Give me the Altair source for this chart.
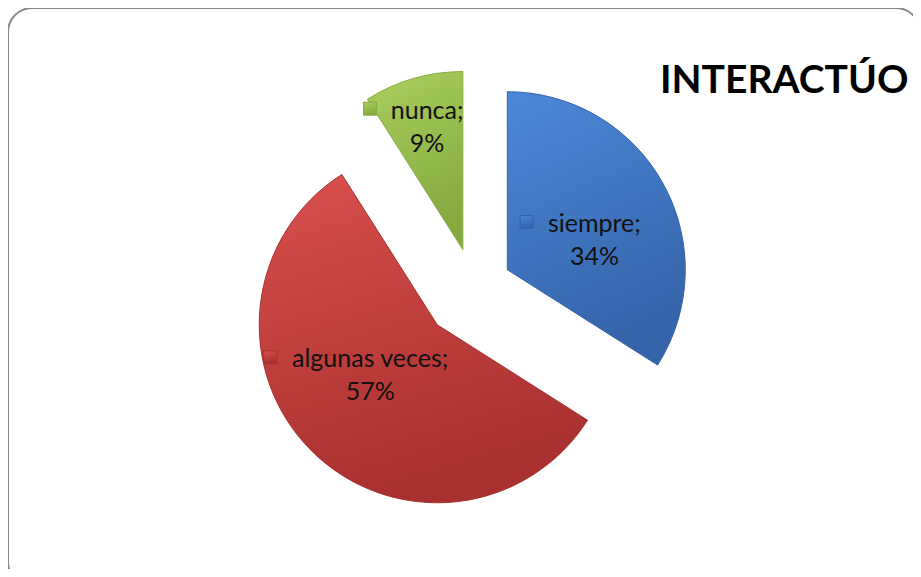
import altair as alt
import pandas as pd

# ---- data ----
categories = ["siempre", "algunas veces", "nunca"]
values = [34, 57, 9]
colors_light = ["#4c88d8", "#d9504d", "#a9cf5e"]
colors_dark = ["#3564aa", "#a8302e", "#86aa40"]
title_text = "INTERACTÚO"

df = pd.DataFrame({"cat": categories, "v": values, "idx": list(range(len(categories)))})

CX, CY, R = 466, 280, 178
explode_expr = "datum.cat == 'algunas veces' ? 52 : (datum.cat == 'nunca' ? 40 : 38)"
labelr_expr = "datum.cat == 'algunas veces' ? 84 : (datum.cat == 'nunca' ? 128 : 92)"
labeld_expr = "datum.cat == 'algunas veces' ? 8 : (datum.cat == 'nunca' ? 0 : 10)"

base = alt.Chart(df).transform_joinaggregate(
    total="sum(v)"
).transform_window(
    cum="sum(v)", sort=[alt.SortField("idx")], frame=[None, 0]
).transform_calculate(
    t0="2*PI*(datum.cum - datum.v)/datum.total",
    t1="2*PI*datum.cum/datum.total",
).transform_calculate(
    mid="(datum.t0 + datum.t1)/2",
    d=explode_expr,
    lr=labelr_expr,
    ld=labeld_expr,
).transform_calculate(
    cx=f"{CX} + datum.d*sin(datum.mid)",
    cy=f"{CY} - datum.d*cos(datum.mid)",
    la="datum.mid + datum.ld*PI/180",
).transform_calculate(
    lx="datum.cx + datum.lr*sin(datum.la)",
    ly="datum.cy - datum.lr*cos(datum.la) - 16",
    pct="format(datum.v/datum.total, '.0%')",
).transform_calculate(
    label="datum.cat + ';\\n' + datum.pct",
    mx="datum.lx - (length(datum.cat)+1)*5.35 - 25",
    my="datum.ly - 2",
)

layers = []
for i, c in enumerate(categories):
    grad = {
        "gradient": "linear", "x1": 0, "y1": 0, "x2": 0.3, "y2": 1,
        "stops": [{"offset": 0, "color": colors_light[i]},
                  {"offset": 1, "color": colors_dark[i]}],
    }
    arc = base.transform_filter(alt.datum.cat == c).mark_arc(
        outerRadius=R, fill=grad, stroke=colors_dark[i], strokeWidth=1
    ).encode(
        x=alt.X("cx:Q", scale=None, axis=None),
        y=alt.Y("cy:Q", scale=None, axis=None),
        theta=alt.Theta("t0:Q", scale=None, stack=None),
        theta2="t1:Q",
    )
    marker = base.transform_filter(alt.datum.cat == c).mark_square(
        size=170, fill=grad, stroke=colors_dark[i], strokeWidth=1, opacity=1
    ).encode(
        x=alt.X("mx:Q", scale=None, axis=None),
        y=alt.Y("my:Q", scale=None, axis=None),
    )
    layers += [arc, marker]

labels = base.mark_text(
    font="Lato", fontSize=25, color="#111111", lineBreak="\n", lineHeight=33,
    align="center", baseline="middle"
).encode(
    x=alt.X("lx:Q", scale=None, axis=None),
    y=alt.Y("ly:Q", scale=None, axis=None),
    text="label:N",
)

frame_df = pd.DataFrame({"k": [0]})
frame = alt.Chart(frame_df).mark_rect(
    fill="white", fillOpacity=0, stroke="#888888", strokeWidth=2, cornerRadius=24
).encode(
    x=alt.value(0), x2=alt.value(912), y=alt.value(0), y2=alt.value(578)
)

title_df = pd.DataFrame({"t": [title_text]})
title = alt.Chart(title_df).mark_text(
    font="Lato", fontSize=39, fontWeight="bold", color="#000000",
    align="left", baseline="alphabetic"
).encode(x=alt.value(652), y=alt.value(85), text="t:N")

chart = alt.layer(frame, *layers, labels, title).properties(
    width=905, height=561, padding=0,
    autosize=alt.AutoSizeParams(type="none"),
).configure_view(stroke=None)

chart.save("out.html", embed_options={"renderer": "svg", "actions": False})
